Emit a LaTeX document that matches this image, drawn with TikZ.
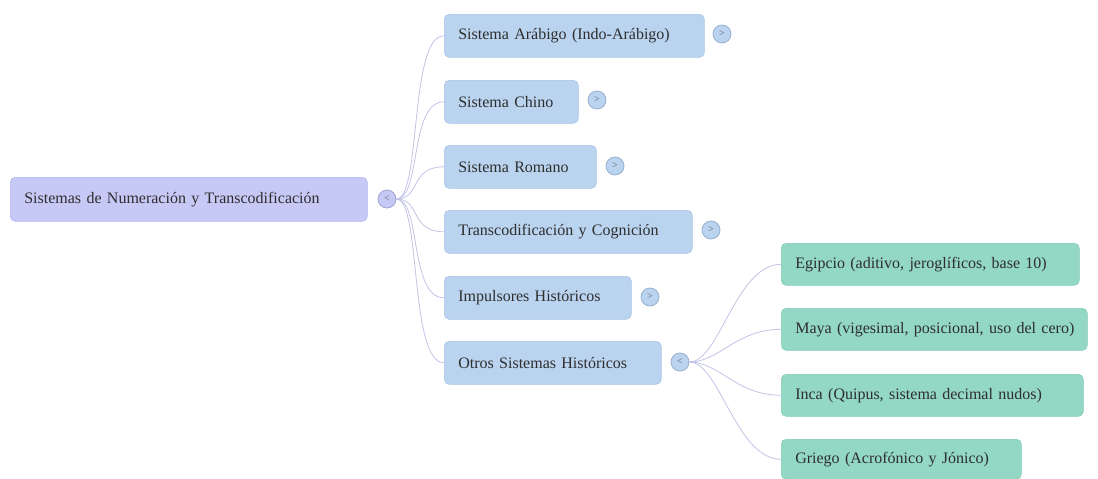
\documentclass[tikz,border=0pt]{standalone}
\usepackage{fontspec}
\setmainfont{Liberation Serif}
\definecolor{rootfill}{HTML}{C6C8F6}
\definecolor{rootdraw}{HTML}{B3B6EC}
\definecolor{l1fill}{HTML}{BAD3EF}
\definecolor{l1draw}{HTML}{A9C4E6}
\definecolor{l2fill}{HTML}{93D7C5}
\definecolor{l2draw}{HTML}{82CAB7}
\definecolor{conncol}{HTML}{C3C3E6}
\definecolor{txt}{HTML}{2E2E2E}
\tikzset{
  box/.style={rectangle, rounded corners=5pt, anchor=north west, inner xsep=14pt, inner ysep=0pt,
    align=left, text=txt, font=\fontsize{16}{18}\selectfont, line width=0.6pt},
  rootbox/.style={box, fill=rootfill, draw=rootdraw},
  lonebox/.style={box, fill=l1fill, draw=l1draw},
  ltwobox/.style={box, fill=l2fill, draw=l2draw},
  tog/.style={circle, minimum size=18pt, inner sep=0pt, font=\fontsize{10}{10}\selectfont, text=txt!75, line width=0.8pt},
  conn/.style={draw=conncol, line width=0.8pt},
}
\newcommand{\bx}[7]{\node[#1, minimum width=#4pt, minimum height=#5pt, text width=#4pt-28pt] (#2) at (#6,#7) {\mbox{#3}};}
\begin{document}
\begin{tikzpicture}[x=1pt,y=-1pt]
\useasboundingbox (0,0) rectangle (1098,479);
% root
\bx{rootbox}{root}{Sistemas de Numeración y Transcodificación}{357}{44}{10}{177}
\node[tog, fill=rootfill, draw=rootdraw!90!black] (rt) at (387,199) {<};
% level 1
\bx{lonebox}{a}{Sistema Arábigo (Indo-Arábigo)}{260}{43}{444}{14}
\bx{lonebox}{b}{Sistema Chino}{134}{43}{444}{80}
\bx{lonebox}{c}{Sistema Romano}{152}{43}{444}{145}
\bx{lonebox}{d}{Transcodificación y Cognición}{248}{43}{444}{210}
\bx{lonebox}{e}{Impulsores Históricos}{187}{43}{444}{276}
\bx{lonebox}{f}{Otros Sistemas Históricos}{217}{43}{444}{341}
\node[tog, fill=l1fill, draw=l1draw!90!black] (at) at (722,34) {>};
\node[tog, fill=l1fill, draw=l1draw!90!black] (bt) at (597,100) {>};
\node[tog, fill=l1fill, draw=l1draw!90!black] (ct) at (615,166) {>};
\node[tog, fill=l1fill, draw=l1draw!90!black] (dt) at (711,230) {>};
\node[tog, fill=l1fill, draw=l1draw!90!black] (et) at (650,297) {>};
\node[tog, fill=l1fill, draw=l1draw!90!black] (ft) at (680,362) {<};
% level 2
\bx{ltwobox}{g}{Egipcio (aditivo, jeroglíficos, base 10)}{298}{42}{781}{243}
\bx{ltwobox}{h}{Maya (vigesimal, posicional, uso del cero)}{306}{42}{781}{308}
\bx{ltwobox}{i}{Inca (Quipus, sistema decimal nudos)}{302}{42}{781}{374}
\bx{ltwobox}{j}{Griego (Acrofónico y Jónico)}{240}{40}{781}{439}
% connectors
\foreach \t in {a,b,c,d,e,f}{
  \draw[conn] (rt.east) .. controls +(25,0) and +(-35,0) .. (\t.west);
}
\foreach \t in {g,h,i,j}{
  \draw[conn] (ft.east) .. controls +(30,0) and +(-45,0) .. (\t.west);
}
\end{tikzpicture}
\end{document}
